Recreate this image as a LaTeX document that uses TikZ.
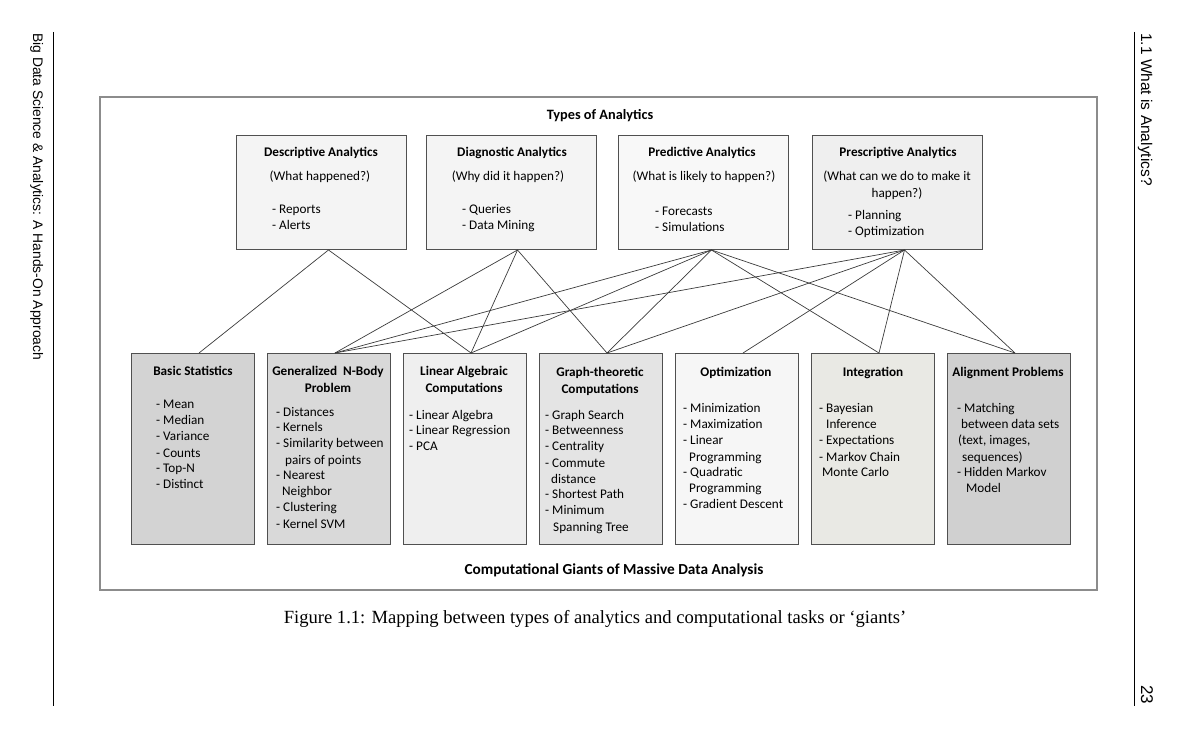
\documentclass[tikz,border=0pt]{standalone}
\usepackage{fontspec}
\setmainfont{Carlito}
\newfontfamily\captionfnt{Liberation Serif}
\newfontfamily\runheadfnt{Liberation Sans}
\definecolor{boxline}{HTML}{505050}
\definecolor{linkcol}{HTML}{3A3A3A}
\definecolor{framecol}{HTML}{8C8C8C}
\definecolor{fDesc}{HTML}{F4F4F4}
\definecolor{fDiag}{HTML}{F4F4F4}
\definecolor{fPred}{HTML}{F8F8F8}
\definecolor{fPresc}{HTML}{EFEFEF}
\definecolor{fBasic}{HTML}{D3D3D3}
\definecolor{fBody}{HTML}{D9D9D9}
\definecolor{fLin}{HTML}{EFEFEF}
\definecolor{fGraph}{HTML}{E4E4E4}
\definecolor{fOpt}{HTML}{F6F6F6}
\definecolor{fInt}{HTML}{E9E9E4}
\definecolor{fAlign}{HTML}{D0D0D0}
\newcommand\listtab[1]{\begin{tabular}[t]{@{}l@{}}#1\end{tabular}}
\newcommand\centab[1]{\begin{tabular}[t]{@{}c@{}}#1\end{tabular}}
\begin{document}
\begin{tikzpicture}[x=1pt,y=-1pt,
  box/.style={draw=boxline, line width=1pt, inner sep=0pt, anchor=north west},
  topbox/.style={box, minimum width=170pt, minimum height=114pt},
  giant/.style={box, minimum width=123pt, minimum height=191pt},
  ttl/.style={font=\fontsize{13.2}{16.5}\selectfont\bfseries, inner sep=0pt, anchor=base},
  txt/.style={font=\fontsize{13.2}{16.5}\selectfont, inner sep=0pt, anchor=base},
  lst/.style={font=\fontsize{13.2}{16}\selectfont, inner sep=0pt, anchor=base west},
  link/.style={draw=linkcol, line width=0.7pt},
  runhead/.style={font=\runheadfnt\fontsize{13.85}{16}\selectfont, inner sep=0pt, rotate=-90, anchor=base west}]

\useasboundingbox (0,0) rectangle (1192,743);

% running heads and rules
\node[runhead] (lefthead) at (33,33) {Big Data Science \& Analytics: A Hands-On Approach};
\node[runhead, font=\runheadfnt\fontsize{15.5}{18}\selectfont] (righthead) at (1141,33) {1.1 What is Analytics?};
\node[runhead, font=\runheadfnt\fontsize{17}{19}\selectfont] (pageno) at (1141,685) {23};
\draw[line width=0.8pt] (53,32) -- (53,706);
\draw[line width=0.8pt] (1134,32) -- (1134,706);

% outer frame
\draw[draw=framecol, line width=1.3pt] (100,97) rectangle (1097,590);
\node[ttl, font=\fontsize{14.3}{16}\selectfont\bfseries] (typesttl) at (600,120) {Types of Analytics};
\node[ttl, font=\fontsize{15.3}{16}\selectfont\bfseries] (giantsttl) at (614,574) {Computational Giants of Massive Data Analysis};

% types of analytics
\node[topbox, fill=fDesc] (desc) at (236,135) {};
\node[topbox, fill=fDiag] (diag) at (426,135) {};
\node[topbox, fill=fPred] (pred) at (618,135) {};
\node[topbox, fill=fPresc] (presc) at (812,135) {};

\node[ttl] (desc-t) at (321,157) {Descriptive Analytics};
\node[txt] (desc-q) at (320,181) {(What happened?)};
\node[lst] (desc-l) at (272,214) {\listtab{- Reports\\- Alerts}};

\node[ttl] (diag-t) at (512,157) {Diagnostic Analytics};
\node[txt] (diag-q) at (508,181) {(Why did it happen?)};
\node[lst] (diag-l) at (462,214) {\listtab{- Queries\\- Data Mining}};

\node[ttl] (pred-t) at (702,157) {Predictive Analytics};
\node[txt] (pred-q) at (704,181) {(What is likely to happen?)};
\node[lst] (pred-l) at (655,216) {\listtab{- Forecasts\\- Simulations}};

\node[ttl] (presc-t) at (898,157) {Prescriptive Analytics};
\node[txt] (presc-q) at (897,181) {\centab{(What can we do to make it\\happen?)}};
\node[lst] (presc-l) at (848,220) {\listtab{- Planning\\- Optimization}};

% computational giants
\node[giant, fill=fBasic] (basic) at (131,353) {};
\node[giant, fill=fBody] (nbody) at (267,353) {};
\node[giant, fill=fLin] (linalg) at (403,353) {};
\node[giant, fill=fGraph] (graph) at (539,353) {};
\node[giant, fill=fOpt] (optim) at (675,353) {};
\node[giant, fill=fInt] (integ) at (811,353) {};
\node[giant, fill=fAlign] (align) at (947,353) {};

\node[ttl] (basic-t) at (193,376) {Basic Statistics};
\node[lst] (basic-l) at (156,409) {\listtab{- Mean\\- Median\\- Variance\\- Counts\\- Top-N\\- Distinct}};

\node[ttl] (nbody-t) at (328,376) {\centab{Generalized\ \ N-Body\\Problem}};
\node[lst] (nbody-l) at (276,416) {\listtab{- Distances\\- Kernels\\- Similarity between\\\hspace*{9pt}pairs of points\\- Nearest\\\hspace*{6pt}Neighbor\\- Clustering\\- Kernel SVM}};

\node[ttl] (linalg-t) at (464,376) {\centab{Linear Algebraic\\Computations}};
\node[lst] (linalg-l) at (409,419) {\listtab{- Linear Algebra\\- Linear Regression\\- PCA}};

\node[ttl] (graph-t) at (600,377) {\centab{Graph-theoretic\\Computations}};
\node[lst] (graph-l) at (545,419) {\listtab{- Graph Search\\- Betweenness\\- Centrality\\- Commute\\\hspace*{6pt}distance\\- Shortest Path\\- Minimum\\\hspace*{8pt}Spanning Tree}};

\node[ttl] (optim-t) at (736,377) {Optimization};
\node[lst] (optim-l) at (683,413) {\listtab{- Minimization\\- Maximization\\- Linear\\\hspace*{6pt}Programming\\- Quadratic\\\hspace*{6pt}Programming\\- Gradient Descent}};

\node[ttl] (integ-t) at (873,377) {Integration};
\node[lst] (integ-l) at (819,413) {\listtab{- Bayesian\\\hspace*{7pt}Inference\\- Expectations\\- Markov Chain\\\hspace*{3pt}Monte Carlo}};

\node[ttl] (align-t) at (1008,377) {Alignment Problems};
\node[lst] (align-l) at (957,413) {\listtab{- Matching\\\hspace*{4pt}between data sets\\\hspace*{1pt}(text, images,\\\hspace*{5pt}sequences)\\- Hidden Markov\\\hspace*{9pt}Model}};

% mapping between analytics types and giants
\draw[link] ([xshift=7pt]desc.south) -- ([xshift=6pt]basic.north);
\draw[link] ([xshift=7pt]desc.south) -- ([xshift=6pt]linalg.north);
\draw[link] ([xshift=6pt]diag.south) -- ([xshift=6pt]nbody.north);
\draw[link] ([xshift=6pt]diag.south) -- ([xshift=6pt]linalg.north);
\draw[link] ([xshift=6pt]diag.south) -- ([xshift=6pt]graph.north);
\draw[link] ([xshift=8pt]pred.south) -- ([xshift=6pt]nbody.north);
\draw[link] ([xshift=8pt]pred.south) -- ([xshift=6pt]linalg.north);
\draw[link] ([xshift=8pt]pred.south) -- ([xshift=6pt]graph.north);
\draw[link] ([xshift=8pt]pred.south) -- ([xshift=6pt]integ.north);
\draw[link] ([xshift=8pt]pred.south) -- ([xshift=6pt]align.north);
\draw[link] ([xshift=7pt]presc.south) -- ([xshift=6pt]nbody.north);
\draw[link] ([xshift=7pt]presc.south) -- ([xshift=6pt]graph.north);
\draw[link] ([xshift=7pt]presc.south) -- ([xshift=6pt]optim.north);
\draw[link] ([xshift=7pt]presc.south) -- ([xshift=6pt]integ.north);
\draw[link] ([xshift=7pt]presc.south) -- ([xshift=6pt]align.north);

% caption
\node[inner sep=0pt, anchor=base, font=\captionfnt\fontsize{18.6}{22}\selectfont] (caption) at (595,623) {Figure 1.1: Mapping between types of analytics and computational tasks or ‘giants’};
\end{tikzpicture}
\end{document}
